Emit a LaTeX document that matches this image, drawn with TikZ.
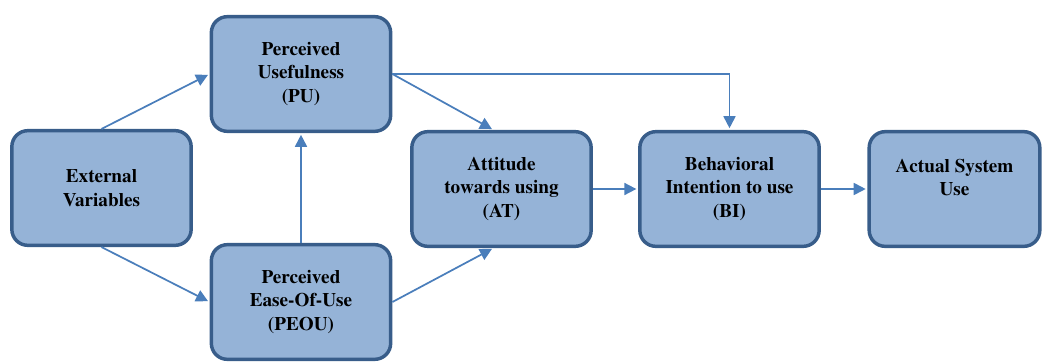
\documentclass[tikz,border=0pt]{standalone}
\usepackage[T1]{fontenc}
\usepackage{mathptmx}
\usetikzlibrary{arrows.meta}
\definecolor{tamfill}{RGB}{149,179,215}
\definecolor{tamedge}{RGB}{56,93,138}
\definecolor{tamline}{RGB}{74,126,187}

\begin{document}
\begin{tikzpicture}[x=0.75pt,y=-0.75pt,
  box/.style={draw=tamedge, fill=tamfill, line width=2.6pt, rounded corners=12pt,
    minimum width=134.5pt, minimum height=86pt, align=center, inner sep=2pt,
    font=\fontsize{14.4}{17.3}\selectfont\bfseries},
  link/.style={draw=tamline, line width=1.3pt, shorten >=1.3pt,
    -{Triangle[length=9pt,width=9pt]}}]
\useasboundingbox (0,0) rectangle (1042,361);

% Boxes
\node[box] (EV) at (101.5,188) {External\\Variables};
\node[box] (PU) at (301,74) {Perceived\\Usefulness\\(PU)};
\node[box] (PEOU) at (301,302) {Perceived\\Ease-Of-Use\\(PEOU)};
\node[box] (AT) at (501.5,189) {Attitude\\towards using\\(AT)};
\node[box] (BI) at (729.5,189) {Behavioral\\Intention to use\\(BI)};
\node[box, minimum width=128pt] (ASU) at (954.5,189) {Actual System\\Use\\\mbox{}};

% Links
\draw[link] (EV.north) -- (PU.west);
\draw[link] (EV.south) -- (PEOU.west);
\draw[link] (PEOU.north) -- (PU.south);
\draw[link] (PU.east) -- ([xshift=-6pt]AT.north);
\draw[link] (PU.east) -| (BI.north);
\draw[link] (PEOU.east) -- ([xshift=-6pt]AT.south);
\draw[link] (AT.east) -- (BI.west);
\draw[link] (BI.east) -- (ASU.west);
\end{tikzpicture}
\end{document}
